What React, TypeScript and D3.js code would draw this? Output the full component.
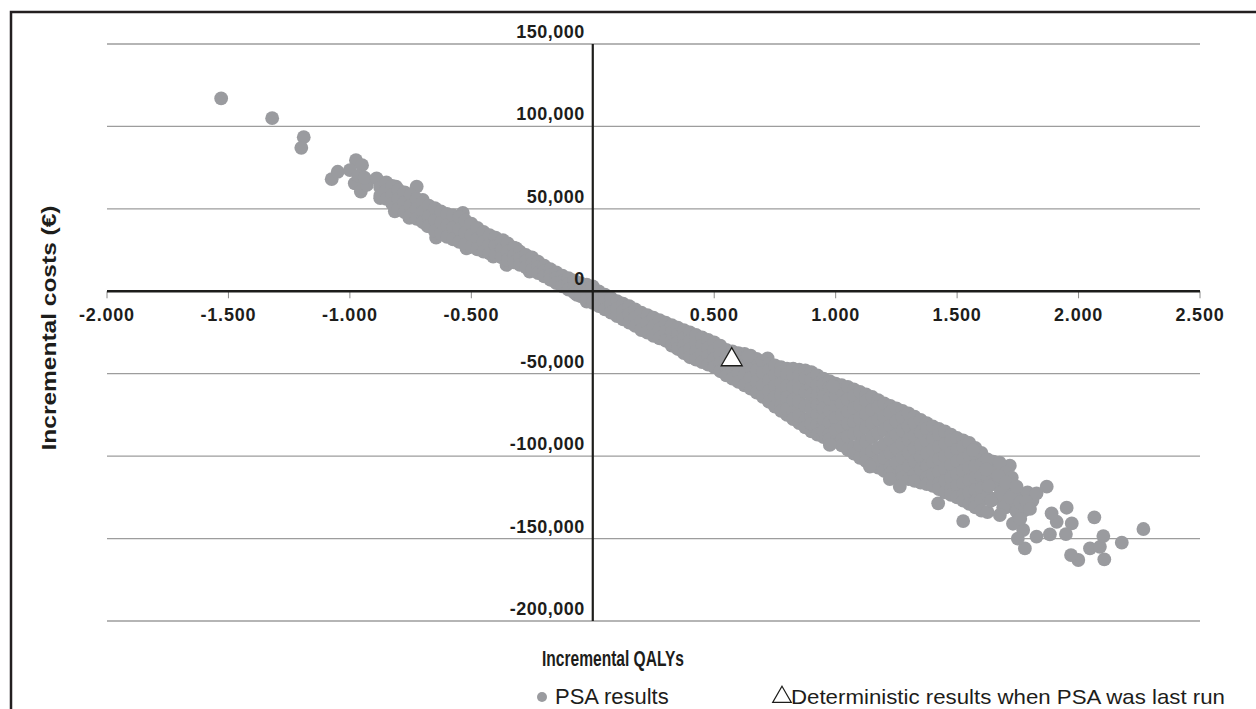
import React, { useEffect, useRef } from "react"
import * as d3 from "d3"

// PSA results: [incremental QALYs, incremental costs (€)]
const psaUpperTail: [number, number][] = [
  [-1.53, 117000], [-1.32, 105000], [-1.19, 93500], [-1.2, 87000],
  [-1.075, 68000], [-1.05, 72500], [-0.975, 79500], [-0.95, 76500],
  [-1.0, 73500], [-0.98, 65500], [-0.955, 60500], [-0.93, 64500],
  [-0.965, 70000], [-0.94, 69000], [-0.89, 68500], [-0.875, 56500],
  [-0.86, 62000], [-0.81, 63500], [-0.815, 48500], [-0.77, 59500],
  [-0.725, 63500], [-0.755, 44500], [-0.7, 55500], [-0.68, 39500],
  [-0.645, 49500], [-0.645, 32500], [-0.58, 45500], [-0.535, 47500],
  [-0.56, 34500], [-0.52, 26000], [-0.465, 36000], [-0.44, 26000],
  [-0.41, 21000], [-0.37, 31000], [-0.355, 16000], [-0.315, 26000],
  [-0.275, 20000], [-0.26, 12000], [-0.22, 16000], [-0.175, 12000],
  [-0.135, 8000], [-0.095, 3800], [-0.065, -2200], [-0.025, -6300],
  [-0.875, 63000], [-0.875, 58000],
]

const psaBandLeft: [number, number][] = [
  [-0.85, 66000], [-0.85, 61000], [-0.85, 56000],
  [-0.825, 64000], [-0.825, 58500], [-0.825, 53000],
  [-0.8, 61500], [-0.8, 56000], [-0.8, 50000],
  [-0.775, 60000], [-0.775, 54000], [-0.775, 48000],
  [-0.75, 58500], [-0.75, 52000], [-0.75, 46000],
  [-0.725, 56000], [-0.725, 50000], [-0.725, 44000],
  [-0.7, 54000], [-0.7, 48000], [-0.7, 42000],
  [-0.675, 52000], [-0.675, 45500], [-0.675, 39500],
  [-0.65, 50500], [-0.65, 43000], [-0.65, 36500],
  [-0.625, 48500], [-0.625, 41500], [-0.625, 35000],
  [-0.6, 47000], [-0.6, 40000], [-0.6, 33000],
  [-0.575, 46000], [-0.575, 38500], [-0.575, 31500],
  [-0.55, 45000], [-0.55, 37500], [-0.55, 30000],
  [-0.525, 43000], [-0.525, 35500], [-0.525, 28500],
  [-0.5, 41000], [-0.5, 34000], [-0.5, 27000],
  [-0.475, 38500], [-0.475, 32000], [-0.475, 25500],
  [-0.45, 36000], [-0.45, 30000], [-0.45, 24000],
  [-0.425, 34000], [-0.425, 28500], [-0.425, 23000],
  [-0.4, 32500], [-0.4, 27500], [-0.4, 22000],
  [-0.375, 30500], [-0.375, 25500], [-0.375, 20500],
  [-0.35, 29000], [-0.35, 24000], [-0.35, 19000],
  [-0.325, 26500], [-0.325, 22000], [-0.325, 17500],
  [-0.3, 24000], [-0.3, 20000], [-0.3, 16000],
  [-0.275, 22000], [-0.275, 18500], [-0.275, 14500],
  [-0.25, 20500], [-0.25, 17000], [-0.25, 13000],
  [-0.225, 18000], [-0.225, 14500], [-0.225, 11000],
  [-0.2, 15500], [-0.2, 12000], [-0.2, 9000],
  [-0.175, 13500], [-0.175, 10000], [-0.175, 7000],
  [-0.15, 11500], [-0.15, 8000], [-0.15, 5000],
  [-0.125, 9500], [-0.125, 6000], [-0.125, 3000],
  [-0.1, 8000], [-0.1, 4500], [-0.1, 1000],
  [-0.075, 6500], [-0.075, 2500], [-0.075, -1000],
  [-0.05, 5000], [-0.05, 1000], [-0.05, -3000],
  [-0.025, 4000], [-0.025, -500], [-0.025, -5000],
  [0, 3000], [0, -2000], [0, -7000],
  [0.025, 0], [0.025, -4500], [0.025, -9000],
  [0.05, -2000], [0.05, -6500], [0.05, -11000],
  [0.075, -4000], [0.075, -8500], [0.075, -13000],
  [0.1, -6000], [0.1, -10500], [0.1, -15000],
  [0.125, -7500], [0.125, -12000], [0.125, -17000],
  [0.15, -9000], [0.15, -14000], [0.15, -19000],
  [0.175, -11000], [0.175, -16000], [0.175, -21000],
  [0.2, -13000], [0.2, -18000], [0.2, -23500],
  [0.225, -14500], [0.225, -19500], [0.225, -25000],
  [0.25, -16000], [0.25, -21500], [0.25, -27000],
  [0.275, -17500], [0.275, -23000], [0.275, -28500],
  [0.3, -19000], [0.3, -24500], [0.3, -30000],
]

const psaBandMiddle: [number, number][] = [
  [0.325, -20500], [0.325, -25000], [0.325, -29500], [0.325, -33000],
  [0.35, -22000], [0.35, -26500], [0.35, -31000], [0.35, -35000],
  [0.375, -23500], [0.375, -28500], [0.375, -33000], [0.375, -37500],
  [0.4, -25000], [0.4, -30000], [0.4, -35000], [0.4, -40000],
  [0.425, -26500], [0.425, -31500], [0.425, -36500], [0.425, -41500],
  [0.45, -28000], [0.45, -33000], [0.45, -38000], [0.45, -43000],
  [0.475, -29500], [0.475, -34500], [0.475, -39500], [0.475, -44500],
  [0.5, -31000], [0.5, -36000], [0.5, -41000], [0.5, -46000],
  [0.525, -33000], [0.525, -38000], [0.525, -43500], [0.525, -48500],
  [0.55, -35500], [0.55, -40500], [0.55, -46000], [0.55, -51000],
  [0.575, -36500], [0.575, -42000], [0.575, -47500], [0.575, -53000],
  [0.6, -37500], [0.6, -43000], [0.6, -49000], [0.6, -55000],
  [0.625, -38000], [0.625, -44500], [0.625, -51000], [0.625, -57000],
  [0.65, -39000], [0.65, -46000], [0.65, -52500], [0.65, -59000],
  [0.675, -41000], [0.675, -48000], [0.675, -55000], [0.675, -61500],
  [0.7, -42500], [0.7, -49500], [0.7, -57000], [0.7, -64000],
  [0.638, -39400], [0.72, -40700],
  [0.725, -44000], [0.725, -48000], [0.725, -54000], [0.725, -60500], [0.725, -67000],
  [0.75, -45000], [0.75, -51000], [0.75, -57500], [0.75, -64000], [0.75, -70000],
  [0.775, -46000], [0.775, -49000], [0.775, -56000], [0.775, -62500], [0.775, -69000], [0.775, -72500],
  [0.8, -47000], [0.8, -54000], [0.8, -61000], [0.8, -68000], [0.8, -75000],
  [0.8, -50500], [0.8, -57500], [0.8, -64500], [0.8, -71500],
  [0.825, -47000], [0.825, -51000], [0.825, -58000], [0.825, -66000], [0.825, -73500], [0.825, -77500],
  [0.85, -47500], [0.85, -55000], [0.85, -63000], [0.85, -71500], [0.85, -80000],
  [0.85, -51000], [0.85, -59000], [0.85, -67000], [0.85, -75500],
  [0.875, -48000], [0.875, -52500], [0.875, -61000], [0.875, -69500], [0.875, -78000], [0.875, -82500],
  [0.9, -49000], [0.9, -58000], [0.9, -67000], [0.9, -76000], [0.9, -85000],
  [0.9, -53500], [0.9, -62500], [0.9, -71500], [0.9, -80500],
  [0.925, -51000], [0.925, -57000], [0.925, -63000], [0.925, -69000], [0.925, -75000], [0.925, -81000], [0.925, -87000],
]

const psaBandRight: [number, number][] = [
  [0.95, -53000], [0.95, -60000], [0.95, -67500], [0.95, -74500], [0.95, -81500], [0.95, -88500],
  [0.95, -56500], [0.95, -64000], [0.95, -71000], [0.95, -78000], [0.95, -85000],
  [0.975, -54500], [0.975, -58000], [0.975, -65000], [0.975, -72500], [0.975, -79500], [0.975, -86500], [0.975, -89500],
  [1.0, -56000], [1.0, -63000], [1.0, -70000], [1.0, -77000], [1.0, -84000], [1.0, -91000],
  [1.025, -57000], [1.025, -60500], [1.025, -68000], [1.025, -75000], [1.025, -82500], [1.025, -90000], [1.025, -93500],
  [1.05, -58000], [1.05, -65500], [1.05, -73000], [1.05, -80500], [1.05, -88000], [1.05, -96000],
  [1.075, -59500], [1.075, -63500], [1.075, -71000], [1.075, -79000], [1.075, -86500], [1.075, -94500], [1.075, -98500],
  [1.1, -61000], [1.1, -69000], [1.1, -77000], [1.1, -85000], [1.1, -93000], [1.1, -101000],
  [1.125, -62500], [1.125, -66500], [1.125, -74500], [1.125, -82500], [1.125, -91000], [1.125, -99000], [1.125, -103000],
  [1.15, -64000], [1.15, -72000], [1.15, -80000], [1.15, -88500], [1.15, -97000], [1.15, -105000],
  [1.175, -66000], [1.175, -70000], [1.175, -78000], [1.175, -86000], [1.175, -95000], [1.175, -103000], [1.175, -107000],
  [1.2, -68000], [1.2, -76000], [1.2, -84000], [1.2, -92500], [1.2, -101000], [1.2, -109000],
  [1.225, -69500], [1.225, -73500], [1.225, -81500], [1.225, -90000], [1.225, -98000], [1.225, -106500], [1.225, -110500],
  [1.25, -71000], [1.25, -79000], [1.25, -87000], [1.25, -95500], [1.25, -104000], [1.25, -112000],
  [1.275, -72500], [1.275, -76500], [1.275, -84500], [1.275, -92500], [1.275, -101000], [1.275, -109000], [1.275, -113000],
  [1.3, -74000], [1.3, -82000], [1.3, -90000], [1.3, -98000], [1.3, -106000], [1.3, -114000],
  [1.325, -76000], [1.325, -80000], [1.325, -87500], [1.325, -95500], [1.325, -103000], [1.325, -111000], [1.325, -115000],
  [1.35, -78000], [1.35, -85500], [1.35, -93000], [1.35, -100500], [1.35, -108000], [1.35, -116000],
  [1.375, -80000], [1.375, -83500], [1.375, -91000], [1.375, -98500], [1.375, -106000], [1.375, -113000], [1.375, -117000],
  [1.4, -82000], [1.4, -89000], [1.4, -96000], [1.4, -104000], [1.4, -111000], [1.4, -118000],
  [1.425, -83500], [1.425, -87000], [1.425, -94500], [1.425, -102000], [1.425, -109500], [1.425, -116500], [1.425, -120000],
  [1.45, -85000], [1.45, -92500], [1.45, -100000], [1.45, -107500], [1.45, -115000], [1.45, -122000],
  [1.475, -87000], [1.475, -90500], [1.475, -98000], [1.475, -105500], [1.475, -113000], [1.475, -120000], [1.475, -123500],
  [1.5, -89000], [1.5, -96000], [1.5, -103000], [1.5, -111000], [1.5, -118000], [1.5, -125000],
  [1.525, -90500], [1.525, -94000], [1.525, -101500], [1.525, -109000], [1.525, -116500], [1.525, -123500], [1.525, -127000],
  [1.55, -92000], [1.55, -99500], [1.55, -107000], [1.55, -114500], [1.55, -122000], [1.55, -129000],
  [1.575, -95000], [1.575, -98500], [1.575, -106000], [1.575, -113000], [1.575, -120500], [1.575, -127500], [1.575, -131000],
  [1.6, -98000], [1.6, -105000], [1.6, -112000], [1.6, -119500], [1.6, -126500], [1.6, -133000],
  [0.988, -57600], [0.976, -93200], [1.141, -106400], [1.223, -113900], [1.264, -118500],
  [1.422, -128600], [1.525, -139400], [1.566, -96300], [1.649, -103300], [1.717, -105800],
]

const psaLowerTail: [number, number][] = [
  [1.625, -102000], [1.625, -113000], [1.625, -124000], [1.625, -134000],
  [1.65, -108000], [1.65, -117000], [1.65, -126000], [1.675, -104000],
  [1.675, -114000], [1.675, -125000], [1.7, -110000], [1.7, -121000],
  [1.7, -131000], [1.725, -113000], [1.725, -120000], [1.725, -129000],
  [1.75, -124000], [1.775, -133000], [1.79, -122000], [1.81, -127000],
  [1.62, -108000], [1.63, -118000], [1.64, -127000], [1.67, -112000], [1.68, -122000],
  [1.69, -131000], [1.7, -116000], [1.72, -125000], [1.745, -118500], [1.745, -133700],
  [1.76, -128000], [1.676, -135700], [1.772, -144800], [1.786, -127600], [1.827, -122600],
  [1.8, -132000], [1.869, -118500], [1.951, -131300], [2.065, -137100], [2.267, -144200],
  [2.178, -152500], [2.106, -162600], [1.999, -163000], [1.969, -160000], [2.047, -156000],
  [2.088, -155000], [2.102, -148500], [1.948, -147300], [1.882, -147500], [1.827, -148800],
  [1.779, -156000], [1.75, -150000], [1.91, -139800], [1.889, -134700], [1.972, -140800],
  [1.73, -141000], [1.76, -138000],
]

const deterministic: [number, number] = [0.572, -41500]

const xTicks = [-2, -1.5, -1, -0.5, 0, 0.5, 1, 1.5, 2, 2.5]
const yTicks = [150000, 100000, 50000, 0, -50000, -100000, -150000, -200000]

const width = 1256
const height = 709
const plot = { left: 107, right: 1200, top: 44, bottom: 621 }
const font = "'Liberation Sans', Arial, Helvetica, sans-serif"
const dotColor = "#9a9b9f"
const ink = "#1d1d1b"

const locale = d3.formatLocale({
  decimal: ".",
  thousands: ",",
  grouping: [3],
  currency: ["€", ""],
  minus: "-",
})
const fmtX = locale.format(".3f")
const fmtY = locale.format(",")

export default function App() {
  const ref = useRef<SVGSVGElement | null>(null)

  useEffect(() => {
    const svg = d3.select(ref.current)
    svg.selectAll("*").remove()

    const x = d3.scaleLinear().domain([-2, 2.5]).range([plot.left, plot.right])
    const y = d3.scaleLinear().domain([-200000, 150000]).range([plot.bottom, plot.top])

    // frame, open at the right and bottom
    svg
      .append("path")
      .attr("d", `M11,${height} V12 H${width}`)
      .attr("fill", "none")
      .attr("stroke", "#231f20")
      .attr("stroke-width", 2.5)

    // gridlines
    svg
      .append("g")
      .selectAll("line")
      .data(yTicks.filter((d) => d !== 0))
      .enter()
      .append("line")
      .attr("x1", plot.left)
      .attr("x2", plot.right)
      .attr("y1", (d) => y(d))
      .attr("y2", (d) => y(d))
      .attr("stroke", "#9d9d9d")
      .attr("stroke-width", 1.3)

    // small ticks under the x axis
    svg
      .append("g")
      .selectAll("line")
      .data(xTicks)
      .enter()
      .append("line")
      .attr("x1", (d) => x(d))
      .attr("x2", (d) => x(d))
      .attr("y1", y(0))
      .attr("y2", y(0) + 7)
      .attr("stroke", "#8a8a8a")
      .attr("stroke-width", 1)

    const allPoints = [
      ...psaUpperTail,
      ...psaBandLeft,
      ...psaBandMiddle,
      ...psaBandRight,
      ...psaLowerTail,
    ]

    svg
      .append("g")
      .selectAll("circle")
      .data(allPoints)
      .enter()
      .append("circle")
      .attr("cx", (d) => x(d[0]))
      .attr("cy", (d) => y(d[1]))
      .attr("r", 6.9)
      .attr("fill", dotColor)

    // axes through the origin, over the dots
    svg
      .append("line")
      .attr("x1", plot.left)
      .attr("x2", plot.right)
      .attr("y1", y(0))
      .attr("y2", y(0))
      .attr("stroke", ink)
      .attr("stroke-width", 2.5)

    svg
      .append("line")
      .attr("x1", x(0))
      .attr("x2", x(0))
      .attr("y1", y(150000))
      .attr("y2", y(-200000))
      .attr("stroke", ink)
      .attr("stroke-width", 2.2)

    svg
      .append("path")
      .attr("d", d3.symbol(d3.symbolTriangle, 190)())
      .attr("transform", `translate(${x(deterministic[0])},${y(deterministic[1])})`)
      .attr("fill", "white")
      .attr("stroke", ink)
      .attr("stroke-width", 1.3)

    // tick labels
    svg
      .append("g")
      .selectAll("text")
      .data(xTicks.filter((d) => d !== 0))
      .enter()
      .append("text")
      .attr("x", (d) => x(d))
      .attr("y", y(0) + 30)
      .attr("text-anchor", "middle")
      .style("font-family", font)
      .style("font-weight", "bold")
      .style("font-size", "18px")
      .style("letter-spacing", "0.8px")
      .attr("fill", ink)
      .text((d) => fmtX(d))

    svg
      .append("g")
      .selectAll("text")
      .data(yTicks)
      .enter()
      .append("text")
      .attr("x", x(0) - 8)
      .attr("y", (d) => y(d) - 6)
      .attr("text-anchor", "end")
      .style("font-family", font)
      .style("font-weight", "bold")
      .style("font-size", "18px")
      .style("letter-spacing", "0.5px")
      .attr("fill", ink)
      .text((d) => fmtY(d))

    // axis titles
    svg
      .append("text")
      .attr("transform", "translate(56,328) rotate(-90)")
      .attr("text-anchor", "middle")
      .attr("textLength", 245)
      .attr("lengthAdjust", "spacingAndGlyphs")
      .style("font-family", font)
      .style("font-weight", "bold")
      .style("font-size", "21px")
      .attr("fill", ink)
      .text("Incremental costs (€)")

    svg
      .append("text")
      .attr("x", 613)
      .attr("y", 666)
      .attr("text-anchor", "middle")
      .attr("textLength", 142)
      .attr("lengthAdjust", "spacingAndGlyphs")
      .style("font-family", font)
      .style("font-weight", "bold")
      .style("font-size", "22px")
      .attr("fill", ink)
      .text("Incremental QALYs")

    // legend
    const legend = svg.append("g")
    legend
      .append("circle")
      .attr("cx", 542)
      .attr("cy", 697)
      .attr("r", 5)
      .attr("fill", dotColor)
    legend
      .append("text")
      .attr("x", 555)
      .attr("y", 704)
      .style("font-family", font)
      .style("font-size", "22px")
      .attr("fill", ink)
      .text("PSA results")
    legend
      .append("path")
      .attr("d", d3.symbol(d3.symbolTriangle, 150)())
      .attr("transform", "translate(782,697)")
      .attr("fill", "white")
      .attr("stroke", ink)
      .attr("stroke-width", 1.2)
    legend
      .append("text")
      .attr("x", 791)
      .attr("y", 704)
      .attr("textLength", 434)
      .attr("lengthAdjust", "spacingAndGlyphs")
      .style("font-family", font)
      .style("font-size", "21px")
      .attr("fill", ink)
      .text("Deterministic results when PSA was last run")
  }, [])

  return (
    <svg
      ref={ref}
      width={width}
      height={height}
      style={{ position: "absolute", left: 0, top: 0, background: "white" }}
    ></svg>
  )
}
